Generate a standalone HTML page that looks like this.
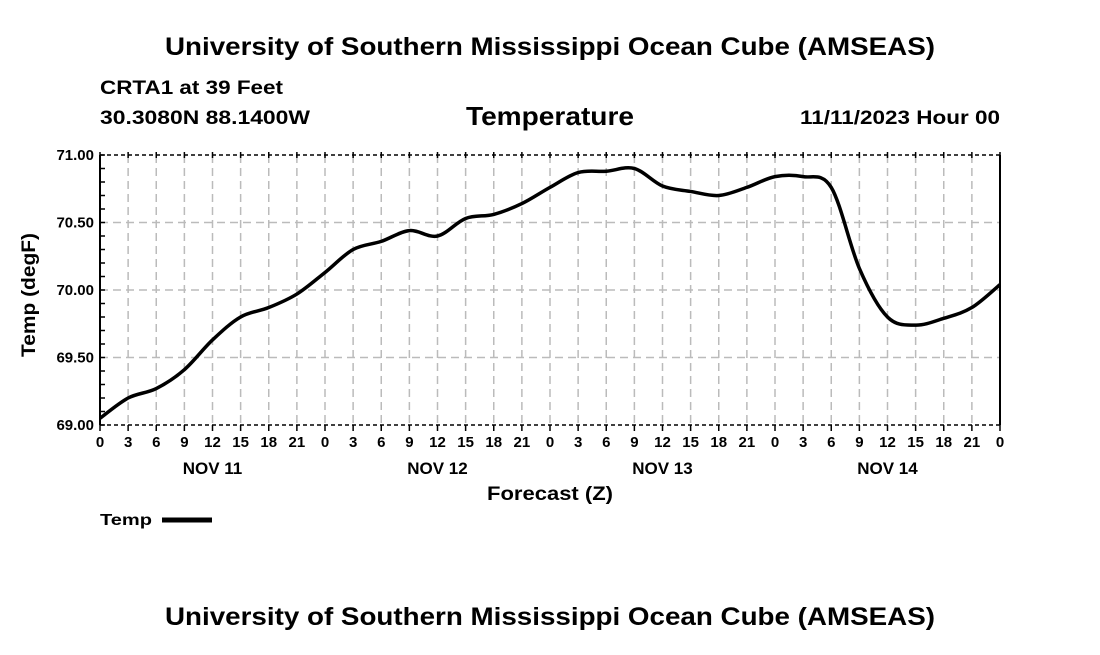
<!DOCTYPE html>
<html><head><meta charset="utf-8"><style>
body{margin:0;background:#fff;width:1100px;height:650px;overflow:hidden;font-family:"Liberation Sans",sans-serif;}
</style></head><body>
<svg width="1100" height="650" font-family="Liberation Sans, sans-serif" font-weight="bold">
<text x="165" y="55" textLength="770" lengthAdjust="spacingAndGlyphs" font-size="25">University of Southern Mississippi Ocean Cube (AMSEAS)</text>
<text x="100" y="94" textLength="183" lengthAdjust="spacingAndGlyphs" font-size="19">CRTA1 at 39 Feet</text>
<text x="100" y="124" textLength="210" lengthAdjust="spacingAndGlyphs" font-size="19">30.3080N  88.1400W</text>
<text x="466" y="125" textLength="168" lengthAdjust="spacingAndGlyphs" font-size="26">Temperature</text>
<text x="800" y="124" textLength="200" lengthAdjust="spacingAndGlyphs" font-size="19">11/11/2023 Hour 00</text>
<g id="grid"></g>
<g id="axes"></g>
<path id="line" fill="none" stroke="#000" stroke-width="3.5"/>
<text transform="translate(35,233) rotate(-90)" x="-124" textLength="124" lengthAdjust="spacingAndGlyphs" font-size="19">Temp (degF)</text>
<text x="487" y="500" textLength="126" lengthAdjust="spacingAndGlyphs" font-size="19">Forecast (Z)</text>
<text x="100" y="525" textLength="52" lengthAdjust="spacingAndGlyphs" font-size="16">Temp</text>
<line x1="162" y1="520" x2="212" y2="520" stroke="#000" stroke-width="5"/>
<text x="165" y="625" textLength="770" lengthAdjust="spacingAndGlyphs" font-size="25">University of Southern Mississippi Ocean Cube (AMSEAS)</text>
</svg>
<script>
const hours=[0,3,6,9,12,15,18,21,24,27,30,33,36,39,42,45,48,51,54,57,60,63,66,69,72,75,78,81,84,87,90,93,96];
const temps=[69.05,69.20,69.27,69.41,69.63,69.80,69.87,69.97,70.13,70.30,70.36,70.44,70.40,70.53,70.56,70.64,70.76,70.87,70.88,70.90,70.77,70.73,70.70,70.76,70.84,70.84,70.76,70.16,69.80,69.74,69.79,69.87,70.04];
const yTicks=[69.00,69.50,70.00,70.50,71.00];
const hourLabels=["0","3","6","9","12","15","18","21"];
const dayLabels=["NOV 11","NOV 12","NOV 13","NOV 14"];
const X0=100,X1=1000,Y0=425,Y1=155;
const xs=h=>X0+(h/96)*(X1-X0);
const ys=v=>Y0-(v-69)/2*(Y0-Y1);
const NS="http://www.w3.org/2000/svg";
const g=document.getElementById('grid'),ax=document.getElementById('axes');
function mk(p,tag,at){const e=document.createElementNS(NS,tag);for(const k in at)e.setAttribute(k,at[k]);p.appendChild(e);return e;}
for(let i=1;i<32;i++){const x=xs(i*3);
const l=mk(g,'line',{x1:x,x2:x,y1:Y1,y2:Y0,stroke:'#bbb','stroke-width':1.5,'stroke-dasharray':'8,5'});

}
yTicks.slice(1,-1).forEach(v=>{const l=mk(g,'line',{x1:X0,x2:X1,y1:ys(v),y2:ys(v),stroke:'#bbb','stroke-width':1.5,'stroke-dasharray':'8,5'});

});
[Y1,Y0].forEach(y=>{const l=mk(ax,'line',{x1:X0,x2:X1,y1:y,y2:y,stroke:'#000','stroke-width':1.5,'stroke-dasharray':'4,3'});

});
[X0,X1].forEach(x=>{const l=mk(ax,'line',{x1:x,x2:x,y1:Y1,y2:Y0,stroke:'#000','stroke-width':2});

});
for(let v=69;v<=71.001;v+=0.1){const y=ys(v);const l=mk(ax,'line',{x1:X0,x2:X0+5,y1:y,y2:y,stroke:'#000','stroke-width':1.5});

}
yTicks.forEach(v=>{const t=mk(ax,'text',{x:X0-6,y:ys(v)+5,'text-anchor':'end','font-size':15});t.textContent=v.toFixed(2);

});
for(let i=0;i<=32;i++){const x=xs(i*3);
const l=mk(ax,'line',{x1:x,x2:x,y1:Y0,y2:Y0+6,stroke:'#000','stroke-width':1.5});


const l2=mk(ax,'line',{x1:x,x2:x,y1:Y1-3,y2:Y1+3,stroke:'#000','stroke-width':1.5});


const t=mk(ax,'text',{x:x,y:Y0+22,'text-anchor':'middle','font-size':15});t.textContent=hourLabels[i%8];

}
dayLabels.forEach((d,i)=>{const t=mk(ax,'text',{x:xs(i*24+12),y:Y0+49,'text-anchor':'middle','font-size':17});t.textContent=d;

});
const P=hours.map((h,i)=>[xs(h),ys(temps[i])]);
let d='M'+P[0][0]+','+P[0][1];
for(let i=0;i<P.length-1;i++){const p0=P[i-1]||P[i],p1=P[i],p2=P[i+1],p3=P[i+2]||P[i+1];
d+=` C${p1[0]+(p2[0]-p0[0])/6},${p1[1]+(p2[1]-p0[1])/6} ${p2[0]-(p3[0]-p1[0])/6},${p2[1]-(p3[1]-p1[1])/6} ${p2[0]},${p2[1]}`;}
document.getElementById('line').setAttribute('d',d);
</script>
</body></html>
